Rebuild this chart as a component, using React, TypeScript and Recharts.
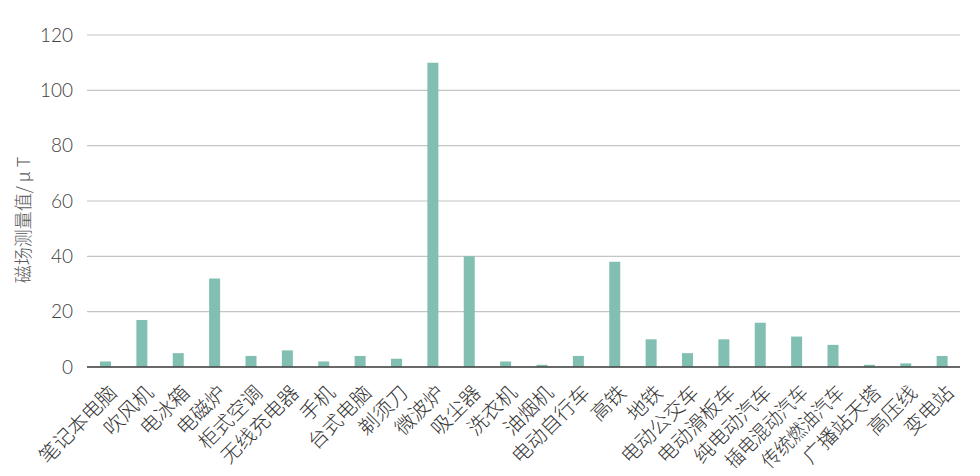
import { BarChart, Bar, XAxis, YAxis, CartesianGrid } from "recharts";

const categories = [
  "笔记本电脑", "吹风机", "电冰箱", "电磁炉", "柜式空调", "无线充电器", "手机",
  "台式电脑", "剃须刀", "微波炉", "吸尘器", "洗衣机", "油烟机", "电动自行车",
  "高铁", "地铁", "电动公交车", "电动滑板车", "纯电动汽车", "插电混动汽车",
  "传统燃油汽车", "广播站天塔", "高压线", "变电站",
];

const values = [2, 17, 5, 32, 4, 6, 2, 4, 3, 110, 40, 2, 0.8, 4, 38, 10, 5, 10, 16, 11, 8, 0.8, 1.3, 4];

const yTicks = [0, 20, 40, 60, 80, 100, 120];

const data = categories.map((name, i) => ({ name, value: values[i] }));

const cjkFont = '"Noto Sans CJK SC", "Noto Sans", sans-serif';

// rotated category label, anchored at its end; the six-character ones are squeezed like in the original
function CategoryTick(props: any) {
  const { x, y, payload } = props;
  const ax = x + 13;
  const ay = y + 19;
  const label = String(payload.value);
  const squeeze = label.length >= 6 ? { textLength: 107, lengthAdjust: "spacingAndGlyphs" } : {};
  return (
    <text
      x={ax}
      y={ay}
      transform={`rotate(-45, ${ax}, ${ay})`}
      textAnchor="end"
      fontSize={20}
      fontWeight={300}
      fontFamily={cjkFont}
      fill="#333333"
      {...squeeze}
    >
      {label}
    </text>
  );
}

export default function App() {
  return (
    <div style={{ width: 980, height: 476, margin: -8, background: "#fff" }}>
      <BarChart
        width={980}
        height={476}
        data={data}
        margin={{ top: 35, right: 20, bottom: 0, left: 0 }}
      >
        <CartesianGrid vertical={false} stroke="#c4c4c4" strokeWidth={1.2} />
        <XAxis
          dataKey="name"
          interval={0}
          height={109}
          tickLine={false}
          axisLine={{ stroke: "#404040", strokeWidth: 1.5 }}
          tick={<CategoryTick />}
        />
        <YAxis
          width={87}
          domain={[0, 120]}
          ticks={yTicks}
          tickLine={false}
          axisLine={false}
          tickSize={8}
          tickMargin={6}
          tick={{ fontSize: 19, fill: "#404040", fontFamily: "Lato, sans-serif", fontWeight: 300 }}
        />
        <Bar dataKey="value" fill="#80bfb1" barSize={11} isAnimationActive={false} />
        <text
          x={22}
          y={220}
          transform="rotate(-90, 22, 220)"
          textAnchor="middle"
          dominantBaseline="central"
          fontSize={18}
          fontWeight={300}
          fontFamily={cjkFont}
          fill="#595959"
        >
          磁场测量值/ μ T
        </text>
      </BarChart>
    </div>
  );
}
